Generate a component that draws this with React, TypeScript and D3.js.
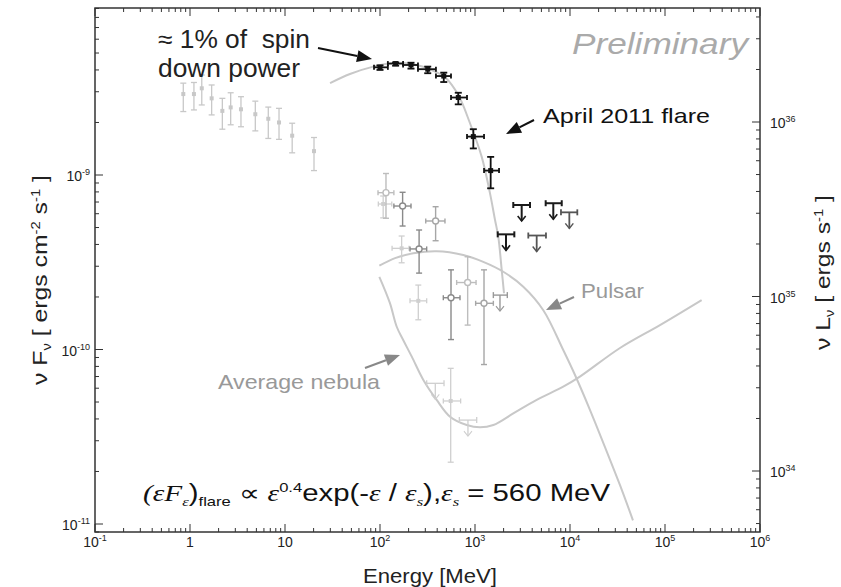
import React from "react";
import * as d3 from "d3";

const WIDTH = 841;
const HEIGHT = 587;
const FRAME = { left: 95, right: 760, top: 8, bottom: 532 };
const FONT = "'Liberation Sans', Arial, sans-serif";
const SERIF = "'Liberation Serif', serif";

// Axis decades and their labels (base, exponent)
const xDecades = [0.1, 1, 10, 100, 1e3, 1e4, 1e5, 1e6];
const xDecadeLabels = [["10", "-1"], ["1", ""], ["10", ""], ["10", "2"], ["10", "3"], ["10", "4"], ["10", "5"], ["10", "6"]];
const fluxDecades = [1e-11, 1e-10, 1e-9];
const fluxDecadeLabels = [["10", "-11"], ["10", "-10"], ["10", "-9"]];
const lumDecades = [1e34, 1e35, 1e36];
const lumDecadeLabels = [["10", "34"], ["10", "35"], ["10", "36"]];
// νLν = 4πd² νFν for the adopted distance
const fluxToLum = 4.97e44;

// Low-energy synchrotron spectrum (MeV, erg cm^-2 s^-1)
const lowEnergyPoints = [
  { e: 0.85, f: 2.91e-9, fLo: 2.31e-9, fHi: 3.36e-9 },
  { e: 1.1, f: 2.91e-9, fLo: 2.36e-9, fHi: 3.39e-9 },
  { e: 1.33, f: 3.14e-9, fLo: 2.52e-9, fHi: 3.74e-9 },
  { e: 1.69, f: 2.75e-9, fLo: 2.21e-9, fHi: 3.28e-9 },
  { e: 2.19, f: 2.33e-9, fLo: 1.83e-9, fHi: 2.75e-9 },
  { e: 2.68, f: 2.44e-9, fLo: 1.94e-9, fHi: 2.96e-9 },
  { e: 3.44, f: 2.38e-9, fLo: 1.89e-9, fHi: 2.81e-9 },
  { e: 4.87, f: 2.23e-9, fLo: 1.79e-9, fHi: 2.65e-9 },
  { e: 6.67, f: 2.1e-9, fLo: 1.62e-9, fHi: 2.45e-9 },
  { e: 8.65, f: 2.0e-9, fLo: 1.6e-9, fHi: 2.41e-9 },
  { e: 11.9, f: 1.68e-9, fLo: 1.34e-9, fHi: 1.98e-9 },
  { e: 20.2, f: 1.37e-9, fLo: 1.06e-9, fHi: 1.64e-9 },
];

// April 2011 flare
const flarePoints = [
  { e: 100, f: 4.14e-9, eLo: 86.5, eHi: 121, fLo: 4.0e-9, fHi: 4.25e-9 },
  { e: 146, f: 4.35e-9, eLo: 121, eHi: 175, fLo: 4.23e-9, fHi: 4.42e-9 },
  { e: 212, f: 4.27e-9, eLo: 175, eHi: 251, fLo: 4.07e-9, fHi: 4.4e-9 },
  { e: 318, f: 4.04e-9, eLo: 251, eHi: 388, fLo: 3.83e-9, fHi: 4.18e-9 },
  { e: 469, f: 3.69e-9, eLo: 388, eHi: 559, fLo: 3.41e-9, fHi: 3.86e-9 },
  { e: 667, f: 2.78e-9, eLo: 559, eHi: 824, fLo: 2.54e-9, fHi: 2.96e-9 },
  { e: 960, f: 1.66e-9, eLo: 824, eHi: 1245, fLo: 1.42e-9, fHi: 1.83e-9 },
  { e: 1462, f: 1.06e-9, eLo: 1245, eHi: 1791, fLo: 8.39e-10, fHi: 1.27e-9 },
];
const flareLimits = [
  { e: 2120, f: 4.57e-10, eLo: 1734, eHi: 2594 },
  { e: 3100, f: 6.73e-10, eLo: 2529, eHi: 3793 },
  { e: 6670, f: 6.89e-10, eLo: 5546, eHi: 8185 },
];
const flareLimitsGrey = [
  { e: 4460, f: 4.5e-10, eLo: 3639, eHi: 5585 },
  { e: 9840, f: 6.11e-10, eLo: 8035, eHi: 11940 },
];

// Earlier flares, drawn in progressively lighter shades
const earlyOpenDark = [
  { e: 173, f: 6.64e-10, eLo: 140, eHi: 212, fLo: 5.1e-10, fHi: 7.96e-10 },
  { e: 258, f: 3.77e-10, eLo: 207, eHi: 310, fLo: 2.74e-10, fHi: 4.84e-10 },
  { e: 559, f: 1.98e-10, eLo: 464, eHi: 695, fLo: 1.14e-10, fHi: 2.86e-10 },
];
const earlyOpenMid = [
  { e: 385, f: 5.45e-10, eLo: 303, eHi: 483, fLo: 4.2e-10, fHi: 6.58e-10 },
  { e: 1244, f: 1.84e-10, eLo: 1016, eHi: 1560, fLo: 8.2e-11, fHi: 2.86e-10 },
];
const earlyOpenLight = [
  { e: 115.6, f: 7.92e-10, eLo: 95.3, eHi: 140, fLo: 5.65e-10, fHi: 1.02e-9 },
  { e: 837, f: 2.42e-10, eLo: 641, eHi: 1026, fLo: 1.38e-10, fHi: 3.4e-10 },
];
const earlyFaint = [
  { e: 108, f: 6.82e-10, eLo: 96, eHi: 133, fLo: 5.68e-10, fHi: 7.58e-10 },
  { e: 169, f: 3.8e-10, eLo: 134, eHi: 202, fLo: 3.14e-10, fHi: 4.47e-10 },
  { e: 253, f: 1.9e-10, eLo: 207, eHi: 310, fLo: 1.48e-10, fHi: 2.34e-10 },
  { e: 555, f: 5.07e-11, eLo: 464, eHi: 706, fLo: 2.26e-11, fHi: 7.8e-11 },
];
const earlyLimitsMid = [{ e: 1832, f: 2.05e-10, eLo: 1560, eHi: 2188 }];
const earlyLimitsFaint = [
  { e: 382, f: 6.4e-11, eLo: 310, eHi: 472 },
  { e: 843, f: 3.94e-11, eLo: 684, eHi: 1042 },
];

// Model curves [MeV, erg cm^-2 s^-1]
const flareModel: [number, number][] = [
  [29.8, 3.36e-9], [48.3, 3.79e-9], [84.9, 4.18e-9], [150, 4.4e-9], [243, 4.27e-9],
  [336, 4.03e-9], [483, 3.63e-9], [667, 2.87e-9], [886, 1.98e-9], [1177, 1.27e-9],
  [1439, 7.85e-10], [1625, 5.52e-10], [1758, 4.43e-10], [1910, 2.86e-10], [2020, 2.1e-10],
];
const pulsarModel: [number, number][] = [
  [98.4, 3.02e-10], [144, 3.34e-10], [224, 3.56e-10], [395, 3.66e-10], [753, 3.48e-10],
  [1222, 3.18e-10], [1986, 2.79e-10], [3223, 2.29e-10], [5236, 1.68e-10], [8490, 9.93e-11],
  [11290, 7.14e-11], [16250, 4.5e-11], [23350, 2.76e-11], [33600, 1.67e-11], [46000, 1.05e-11],
];
const nebulaModel: [number, number][] = [
  [98.4, 2.61e-10], [127, 1.85e-10], [150, 1.35e-10], [176, 1.13e-10], [216, 9.1e-11],
  [286, 6.69e-11], [395, 5.14e-11], [546, 4.12e-11], [818, 3.69e-11], [1130, 3.58e-11],
  [1560, 3.69e-11], [2530, 4.3e-11], [4460, 5.14e-11], [8490, 6.12e-11], [12700, 6.99e-11],
  [33600, 1.02e-10], [88500, 1.38e-10], [243000, 1.92e-10],
];

const x = d3.scaleLog().domain([0.1, 1e6]).range([FRAME.left, FRAME.right]);
const y = d3.scaleLog().domain([1e-11, 1e-8]).range([524, 0.5]);
const yLum = d3.scaleLog().domain([1e-11 * fluxToLum, 1e-8 * fluxToLum]).range([524, 0.5]);

const line = d3
  .line<[number, number]>()
  .x((d) => x(d[0]))
  .y((d) => y(d[1]))
  .curve(d3.curveCatmullRom.alpha(0.5));

function minorTicks(decades: number[]): number[] {
  const out: number[] = [];
  decades.forEach((d) => {
    for (let k = 2; k <= 9; k++) out.push(d * k);
  });
  return out;
}

type Pt = { e: number; f: number; eLo?: number; eHi?: number; fLo?: number; fHi?: number };

function ErrorPoint({ p, color, sw, cap, marker }: { p: Pt; color: string; sw: number; cap: number; marker: "square" | "circle" | "dot" }) {
  const cx = x(p.e);
  const cy = y(p.f);
  const parts: React.ReactNode[] = [];
  if (p.fLo !== undefined && p.fHi !== undefined) {
    const y1 = y(p.fHi);
    const y2 = y(p.fLo);
    parts.push(<line key="v" x1={cx} x2={cx} y1={y1} y2={y2} />);
    parts.push(<line key="vc1" x1={cx - cap} x2={cx + cap} y1={y1} y2={y1} />);
    parts.push(<line key="vc2" x1={cx - cap} x2={cx + cap} y1={y2} y2={y2} />);
  }
  if (p.eLo !== undefined && p.eHi !== undefined) {
    const x1 = x(p.eLo);
    const x2 = x(p.eHi);
    parts.push(<line key="h" x1={x1} x2={x2} y1={cy} y2={cy} />);
    parts.push(<line key="hc1" x1={x1} x2={x1} y1={cy - 2.5} y2={cy + 2.5} />);
    parts.push(<line key="hc2" x1={x2} x2={x2} y1={cy - 2.5} y2={cy + 2.5} />);
  }
  return (
    <g stroke={color} strokeWidth={sw} fill="none">
      {parts}
      {marker === "square" && <rect x={cx - 2.5} y={cy - 2.5} width={5} height={5} fill={color} stroke="none" />}
      {marker === "dot" && <rect x={cx - 2} y={cy - 2} width={4} height={4} fill={color} stroke="none" />}
      {marker === "circle" && <circle cx={cx} cy={cy} r={3} fill="#fff" />}
    </g>
  );
}

function UpperLimit({ p, color, sw }: { p: Pt; color: string; sw: number }) {
  const cx = x(p.e);
  const cy = y(p.f);
  const x1 = x(p.eLo!);
  const x2 = x(p.eHi!);
  const len = 16;
  return (
    <g stroke={color} strokeWidth={sw} fill="none">
      <line x1={x1} x2={x2} y1={cy} y2={cy} />
      <line x1={x1} x2={x1} y1={cy - 3} y2={cy + 3} />
      <line x1={x2} x2={x2} y1={cy - 3} y2={cy + 3} />
      <line x1={cx} x2={cx} y1={cy} y2={cy + len} />
      <polyline points={`${cx - 4},${cy + len - 5} ${cx},${cy + len} ${cx + 4},${cy + len - 5}`} strokeWidth={sw * 0.8} />
    </g>
  );
}

function Arrow({ x1, y1, x2, y2, color, sw = 2 }: { x1: number; y1: number; x2: number; y2: number; color: string; sw?: number }) {
  const ang = Math.atan2(y2 - y1, x2 - x1);
  const hl = 15;
  const hw = 6;
  const bx = x2 - hl * Math.cos(ang);
  const by = y2 - hl * Math.sin(ang);
  const px = -Math.sin(ang) * hw;
  const py = Math.cos(ang) * hw;
  return (
    <g>
      <line x1={x1} y1={y1} x2={bx} y2={by} stroke={color} strokeWidth={sw} />
      <polygon points={`${x2},${y2} ${bx + px},${by + py} ${bx - px},${by - py}`} fill={color} />
    </g>
  );
}

export default function App() {
  const xMinor = minorTicks(xDecades.slice(0, -1));
  const yMinor = minorTicks([1e-12, 1e-11, 1e-10, 1e-9]).filter((v) => y(v) <= FRAME.bottom && y(v) >= FRAME.top);
  const lMinor = minorTicks([1e33, 1e34, 1e35, 1e36]).filter((v) => yLum(v) <= FRAME.bottom && yLum(v) >= FRAME.top);
  const axisColor = "#333";
  const major = 8;
  const minor = 4;

  return (
    <svg width={WIDTH} height={HEIGHT} viewBox={`0 0 ${WIDTH} ${HEIGHT}`} style={{ position: "absolute", left: 0, top: 0, background: "#fff" }} fontFamily={FONT}>
      <defs>
        <clipPath id="plotArea">
          <rect x={FRAME.left} y={FRAME.top} width={FRAME.right - FRAME.left} height={FRAME.bottom - FRAME.top} />
        </clipPath>
      </defs>
      <rect width={WIDTH} height={HEIGHT} fill="#fff" />

      {/* model curves */}
      <g clipPath="url(#plotArea)" fill="none" stroke="#c8c8c8" strokeWidth={2}>
        <path d={line(nebulaModel) ?? ""} />
        <path d={line(pulsarModel) ?? ""} />
        <path d={line(flareModel) ?? ""} />
      </g>

      {/* data */}
      {lowEnergyPoints.map((p, i) => (
        <ErrorPoint key={`l${i}`} p={p} color="#c8c8c8" sw={1.3} cap={3} marker="dot" />
      ))}
      {earlyFaint.map((p, i) => (
        <ErrorPoint key={`ef${i}`} p={p} color="#cfcfcf" sw={1.3} cap={3} marker="dot" />
      ))}
      {earlyLimitsFaint.map((p, i) => (
        <UpperLimit key={`elf${i}`} p={p} color="#cfcfcf" sw={1.3} />
      ))}
      {earlyOpenLight.map((p, i) => (
        <ErrorPoint key={`el${i}`} p={p} color="#bdbdbd" sw={1.4} cap={3} marker="circle" />
      ))}
      {earlyOpenMid.map((p, i) => (
        <ErrorPoint key={`em${i}`} p={p} color="#a6a6a6" sw={1.4} cap={3} marker="circle" />
      ))}
      {earlyOpenDark.map((p, i) => (
        <ErrorPoint key={`ed${i}`} p={p} color="#8a8a8a" sw={1.4} cap={3} marker="circle" />
      ))}
      {earlyLimitsMid.map((p, i) => (
        <UpperLimit key={`elm${i}`} p={p} color="#999" sw={1.4} />
      ))}
      {flareLimitsGrey.map((p, i) => (
        <UpperLimit key={`flg${i}`} p={p} color="#555" sw={1.8} />
      ))}
      {flareLimits.map((p, i) => (
        <UpperLimit key={`fl${i}`} p={p} color="#1a1a1a" sw={2} />
      ))}
      {flarePoints.map((p, i) => (
        <ErrorPoint key={`f${i}`} p={p} color="#111" sw={1.8} cap={3.5} marker="square" />
      ))}

      {/* frame */}
      <rect x={FRAME.left} y={FRAME.top} width={FRAME.right - FRAME.left} height={FRAME.bottom - FRAME.top} fill="none" stroke={axisColor} strokeWidth={1.5} />

      {/* ticks on all four sides */}
      <g stroke={axisColor} strokeWidth={1}>
        {xDecades.map((v, i) => (
          <g key={`xt${i}`}>
            <line x1={x(v)} x2={x(v)} y1={FRAME.bottom} y2={FRAME.bottom - major} />
            <line x1={x(v)} x2={x(v)} y1={FRAME.top} y2={FRAME.top + major} />
          </g>
        ))}
        {xMinor.map((v, i) => (
          <g key={`xm${i}`}>
            <line x1={x(v)} x2={x(v)} y1={FRAME.bottom} y2={FRAME.bottom - minor} />
            <line x1={x(v)} x2={x(v)} y1={FRAME.top} y2={FRAME.top + minor} />
          </g>
        ))}
        {fluxDecades.map((v, i) => (
          <line key={`yt${i}`} x1={FRAME.left} x2={FRAME.left + major} y1={y(v)} y2={y(v)} />
        ))}
        {yMinor.map((v, i) => (
          <line key={`ym${i}`} x1={FRAME.left} x2={FRAME.left + minor} y1={y(v)} y2={y(v)} />
        ))}
        {lumDecades.map((v, i) => (
          <line key={`lt${i}`} x1={FRAME.right} x2={FRAME.right - major} y1={yLum(v)} y2={yLum(v)} />
        ))}
        {lMinor.map((v, i) => (
          <line key={`lm${i}`} x1={FRAME.right} x2={FRAME.right - minor} y1={yLum(v)} y2={yLum(v)} />
        ))}
      </g>

      {/* tick labels */}
      <g fill="#222" fontSize={14}>
        {xDecades.map((v, i) => (
          <text key={`xl${i}`} x={x(v)} y={547} textAnchor="middle">
            {xDecadeLabels[i][0]}
            {xDecadeLabels[i][1] && (
              <tspan dy={-6} fontSize={9}>
                {xDecadeLabels[i][1]}
              </tspan>
            )}
          </text>
        ))}
        {fluxDecades.map((v, i) => (
          <text key={`yl${i}`} x={90} y={y(v) + 6} textAnchor="end">
            {fluxDecadeLabels[i][0]}
            <tspan dy={-6} fontSize={9}>
              {fluxDecadeLabels[i][1]}
            </tspan>
          </text>
        ))}
        {lumDecades.map((v, i) => (
          <text key={`ll${i}`} x={770} y={yLum(v) + 6} textAnchor="start">
            {lumDecadeLabels[i][0]}
            <tspan dy={-6} fontSize={9}>
              {lumDecadeLabels[i][1]}
            </tspan>
          </text>
        ))}
      </g>

      {/* axis titles */}
      <text x={363} y={583} fontSize={20} fill="#222" textLength={134} lengthAdjust="spacingAndGlyphs">
        Energy [MeV]
      </text>
      <text transform="translate(47,385) rotate(-90)" fontSize={20} fill="#222" textLength={210} lengthAdjust="spacingAndGlyphs">
        ν F<tspan dy={4} fontSize={12}>ν</tspan>
        <tspan dy={-4}> [ ergs cm</tspan>
        <tspan dy={-7} fontSize={12}>-2</tspan>
        <tspan dy={7}> s</tspan>
        <tspan dy={-7} fontSize={12}>-1</tspan>
        <tspan dy={7}> ]</tspan>
      </text>
      <text transform="translate(830,350) rotate(-90)" fontSize={20} fill="#222" textLength={155} lengthAdjust="spacingAndGlyphs">
        ν L<tspan dy={4} fontSize={12}>ν</tspan>
        <tspan dy={-4}> [ ergs s</tspan>
        <tspan dy={-7} fontSize={12}>-1</tspan>
        <tspan dy={7}> ]</tspan>
      </text>

      {/* annotations */}
      <text x={572} y={54} fontSize={29} fontStyle="italic" fill="#aaa" textLength={176} lengthAdjust="spacingAndGlyphs">
        Preliminary
      </text>
      <text x={158} y={48} fontSize={25} fill="#222" textLength={152} lengthAdjust="spacingAndGlyphs">
        {"≈ 1% of\u00a0 spin"}
      </text>
      <text x={158} y={77} fontSize={25} fill="#222" textLength={142} lengthAdjust="spacingAndGlyphs">
        down power
      </text>
      <Arrow x1={318} y1={48} x2={372} y2={59} color="#111" />
      <text x={543} y={123} fontSize={21} fill="#111" textLength={167} lengthAdjust="spacingAndGlyphs">
        April 2011 flare
      </text>
      <Arrow x1={534} y1={120} x2={506} y2={134} color="#111" />
      <text x={581} y={298} fontSize={20} fill="#999" textLength={63} lengthAdjust="spacingAndGlyphs">
        Pulsar
      </text>
      <Arrow x1={574} y1={297} x2={546} y2={310} color="#888" />
      <text x={218} y={389} fontSize={21} fill="#999" textLength={162} lengthAdjust="spacingAndGlyphs">
        Average nebula
      </text>
      <Arrow x1={365} y1={368} x2={400} y2={355} color="#888" />

      {/* fitted spectral shape */}
      <text x={143} y={501} fontSize={23} fill="#111" textLength={467} lengthAdjust="spacingAndGlyphs">
        <tspan fontFamily={SERIF} fontStyle="italic">(εF</tspan>
        <tspan dy={5} fontSize={13} fontFamily={SERIF} fontStyle="italic">ε</tspan>
        <tspan dy={-5}>)</tspan>
        <tspan dy={5} fontSize={13}>flare</tspan>
        <tspan dy={-5}> ∝ </tspan>
        <tspan fontFamily={SERIF} fontStyle="italic">ε</tspan>
        <tspan dy={-9} fontSize={13}>0.4</tspan>
        <tspan dy={9}>exp(-</tspan>
        <tspan fontFamily={SERIF} fontStyle="italic">ε</tspan>
        <tspan> / </tspan>
        <tspan fontFamily={SERIF} fontStyle="italic">ε</tspan>
        <tspan dy={5} fontSize={13} fontFamily={SERIF} fontStyle="italic">s</tspan>
        <tspan dy={-5}>),</tspan>
        <tspan fontFamily={SERIF} fontStyle="italic">ε</tspan>
        <tspan dy={5} fontSize={13} fontFamily={SERIF} fontStyle="italic">s</tspan>
        <tspan dy={-5}> = 560 MeV</tspan>
      </text>
    </svg>
  );
}
